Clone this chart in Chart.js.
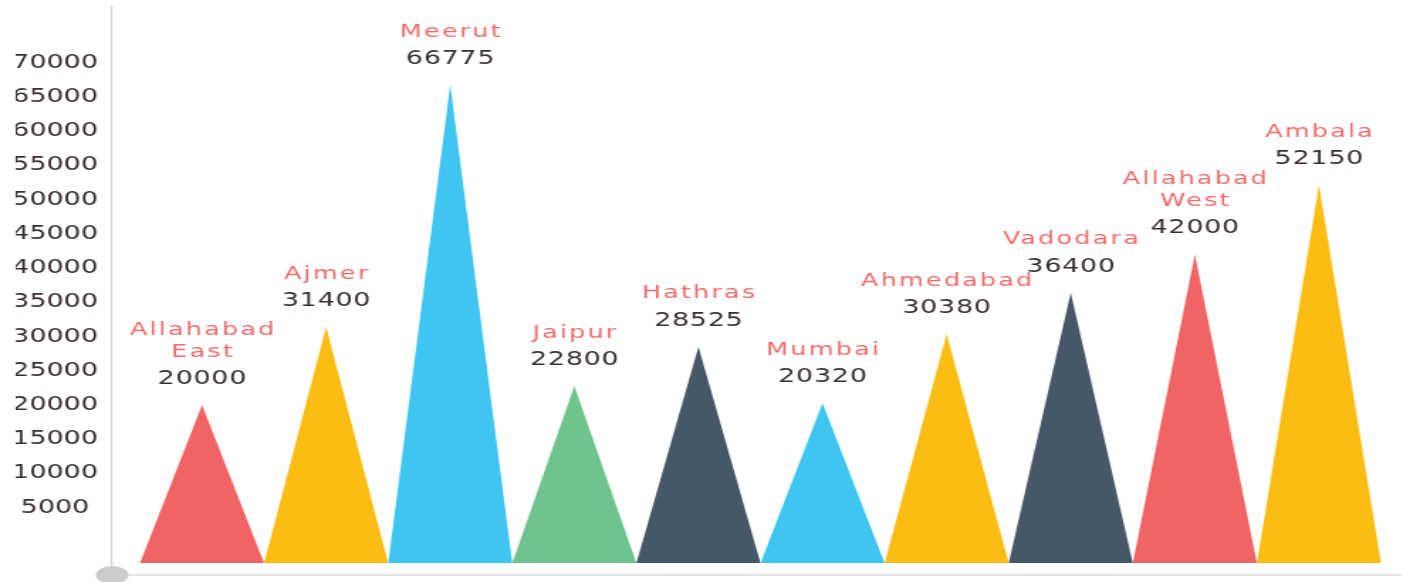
<!DOCTYPE html>
<html>
<head>
<meta charset="utf-8">
<script src="https://cdn.jsdelivr.net/npm/chart.js@4"></script>
<style>
  html, body { margin: 0; padding: 0; background: #ffffff; overflow: hidden; }
  #wrap { width: 1403px; height: 582px; overflow: hidden; }
  /* the artwork is drawn narrow and widened, giving the broad lettering and shapes */
  #chart { display: block; transform: scaleX(1.42); transform-origin: 0 0; }
</style>
</head>
<body>
<div id="wrap"><canvas id="chart" width="988" height="582"></canvas></div>
<script>
// Cities, their figures and the colour of each peak
const categories = [['Allahabad', 'East'], 'Ajmer', 'Meerut', 'Jaipur', 'Hathras',
                    'Mumbai', 'Ahmedabad', 'Vadodara', ['Allahabad', 'West'], 'Ambala'];
const values = [20000, 31400, 66775, 22800, 28525, 20320, 30380, 36400, 42000, 52150];
const colors = ['#f06464', '#fbbd13', '#3ec5f0', '#6fc38c', '#465867',
                '#3ec5f0', '#fbbd13', '#465867', '#f06464', '#fbbd13'];
const yTicks = [5000, 10000, 15000, 20000, 25000, 30000, 35000,
                40000, 45000, 50000, 55000, 60000, 65000, 70000];

// value-axis extent and the level the peaks rise from
const yMin = -4820, yMax = 78150, peakBase = -3070;
// index-axis extent (leaves a margin between the axis and the first peak)
const xMin = -0.724, xMax = 9.654;

const FONT = '"DejaVu Sans", sans-serif';

// Draws each bar as a triangle: base spans the bar width, apex at the value
const trianglePlugin = {
  id: 'triangles',
  beforeDatasetDraw(chart, args) {
    const ctx = chart.ctx;
    ctx.save();
    args.meta.data.forEach(el => {
      const p = el.getProps(['x', 'y', 'base', 'width'], true);
      ctx.fillStyle = el.options.backgroundColor;
      ctx.beginPath();
      ctx.moveTo(p.x - p.width / 2, p.base);
      ctx.lineTo(p.x, p.y);
      ctx.lineTo(p.x + p.width / 2, p.base);
      ctx.closePath();
      ctx.fill();
    });
    ctx.restore();
    return false;
  }
};

// City name and figure written above every peak
const peakLabels = {
  id: 'peakLabels',
  afterDatasetsDraw(chart) {
    const ctx = chart.ctx;
    const meta = chart.getDatasetMeta(0);
    ctx.save();
    ctx.textAlign = 'center';
    ctx.textBaseline = 'middle';
    meta.data.forEach((el, i) => {
      const x = el.x;
      const vy = el.y - 26;
      ctx.font = '19px ' + FONT;
      ctx.fillStyle = '#3b2e31';
      if ('letterSpacing' in ctx) ctx.letterSpacing = '0.5px';
      ctx.fillText(String(values[i]), x + 0.25, vy);
      const lines = Array.isArray(categories[i]) ? categories[i] : [categories[i]];
      ctx.font = '18px ' + FONT;
      ctx.fillStyle = '#f26a6a';
      if ('letterSpacing' in ctx) ctx.letterSpacing = '1.5px';
      lines.forEach((line, k) => {
        const ly = vy - 27 - (lines.length - 1 - k) * 22;
        ctx.fillText(line, x + 0.75, ly);
      });
    });
    ctx.restore();
  }
};

// Round grey knob where the two axes meet
const originKnob = {
  id: 'originKnob',
  afterDraw(chart) {
    const {ctx, chartArea} = chart;
    ctx.save();
    ctx.fillStyle = '#cbcbcb';
    ctx.beginPath();
    ctx.ellipse(chartArea.left, chartArea.bottom, 11.5, 9, 0, 0, Math.PI * 2);
    ctx.fill();
    ctx.restore();
  }
};

new Chart(document.getElementById('chart'), {
  type: 'bar',
  data: {
    datasets: [{
      data: values.map((v, i) => ({ x: i, y: v })),
      backgroundColor: colors,
      base: peakBase,
      barPercentage: 1,
      categoryPercentage: 1
    }]
  },
  options: {
    responsive: false,
    animation: false,
    events: [],
    layout: { padding: { left: 11, top: 7, right: 2, bottom: 7 } },
    plugins: { legend: { display: false }, tooltip: { enabled: false } },
    scales: {
      x: {
        type: 'linear',
        offset: false,
        min: xMin,
        max: xMax,
        afterBuildTicks: s => { s.ticks = values.map((_, i) => ({ value: i })); },
        afterFit: s => { s.height = 0; s.paddingLeft = 0; s.paddingRight = 0; },
        grid: { display: false, drawTicks: false, offset: false },
        ticks: { display: false },
        border: { display: true, color: '#e4e4e4', width: 2 }
      },
      y: {
        type: 'linear',
        min: yMin,
        max: yMax,
        afterBuildTicks: s => { s.ticks = yTicks.map(v => ({ value: v })); },
        afterFit: s => { s.width = 68; s.paddingTop = 0; s.paddingBottom = 0; },
        grid: { display: false, drawTicks: false },
        border: { display: true, color: '#d2d2d2', width: 1.2 },
        ticks: {
          crossAlign: 'center',
          padding: 10,
          color: '#3b2e31',
          font: { family: FONT, size: 19 },
          callback: v => String(v)
        }
      }
    }
  },
  plugins: [trianglePlugin, peakLabels, originKnob]
});
</script>
</body>
</html>
